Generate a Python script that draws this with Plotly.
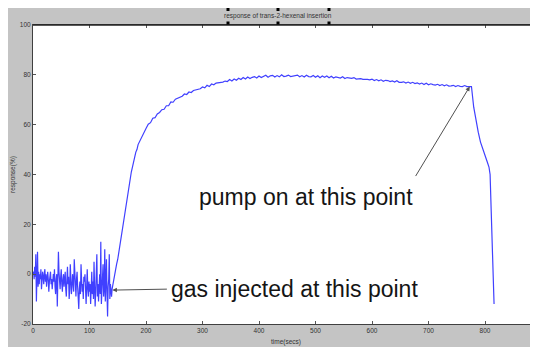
import plotly.graph_objects as go

# ---------------- data ----------------
noise_times = list(range(0, 141))
noise_vals = [0, 1, -2, 3, -1, 8, -11, -3, 9, -5, 1,
              -4, 0, -2, 2, -6, -3, 1, -1, -4, 0,
              2, -3, 0, -5, -1, 1, -2, -7, -3, 0,
              1, -4, -2, -6, -1, 0, -3, 2, -5, -8,
              -2, 0, -13, -4, 9, 1, -3, -6, -1, 2,
              -4, -7, -2, 0, -5, -3, 1, -6, -9, -2,
              3, -4, -1, -10, -6, 4, -2, -8, -5, 0,
              -3, -7, 6, -1, -4, -9, -2, 1, -5, -11,
              -14, -6, -3, -8, 4, -2, -7, -4, -10, -1,
              -3, 0, -8, -12, -5, 2, -6, -9, -3, -7,
              -4, -12, -6, 1, -8, -3, -10, 5, -5, -13,
              -7, -2, 8, -9, -4, -11, -6, 0, -8, 13,
              -12, -5, -2, 4, -9, -6, 10, -11, -3, 6,
              -8, -17, -5, -2, 8, -10, -4, -7, -9, -6]

rise_times = list(range(142, 199, 2))
rise_vals = [-3, 0, 2, 4, 6, 9, 12, 14, 16, 19,
             22, 26, 30, 33, 35, 38, 41, 43, 46, 47,
             49, 50, 52, 53, 54, 55, 56, 57, 57.5]

plateau_times = list(range(200, 777, 4))
plateau_vals = [58.5, 60.2, 60.8, 62.6, 62.8, 64.3, 64.9, 66.0, 66.2, 67.6,
                67.6, 69.1, 69.0, 70.2, 70.5, 71.1, 71.4, 72.3, 72.1, 73.1,
                72.9, 73.7, 73.9, 74.2, 74.4, 75.1, 74.8, 75.8, 75.3, 76.3,
                76.0, 76.7, 76.8, 77.0, 77.1, 77.5, 77.3, 78.1, 77.5, 78.3,
                77.8, 78.6, 78.1, 78.9, 78.3, 79.1, 78.5, 79.0, 79.3, 78.7,
                79.5, 78.9, 79.3, 79.8, 79.0, 79.6, 79.8, 79.1, 79.7, 79.2,
                80.0, 79.3, 79.5, 79.9, 79.3, 79.4, 79.8, 79.9, 79.2, 79.7,
                79.1, 79.8, 79.3, 79.2, 79.7, 79.0, 79.6, 78.8, 79.5, 79.0,
                79.5, 78.8, 79.4, 78.7, 79.2, 78.9, 78.7, 79.2, 78.5, 78.9,
                78.6, 78.6, 78.9, 78.3, 78.4, 78.5, 78.2, 78.3, 78.2, 78.0,
                78.3, 77.7, 78.1, 77.6, 78.0, 77.4, 77.8, 77.7, 77.3, 77.6,
                77.1, 77.6, 77.0, 77.0, 77.2, 76.7, 77.1, 76.6, 77.0, 76.5,
                76.8, 76.3, 76.7, 76.1, 76.6, 76.0, 76.4, 76.1, 75.9, 76.2,
                75.7, 76.1, 75.6, 76.0, 75.5, 75.6, 75.8, 75.3, 75.7, 75.4,
                75.3, 75.7, 75.3, 75.3, 75.3]

drop_times = [780, 784, 788, 792, 796, 800, 804, 807, 809, 811, 813, 815, 816]
drop_vals = [67, 61, 57, 53, 50, 47.5, 45, 43, 40, 25, 8, -5, -12]

x_ticks = [0, 100, 200, 300, 400, 500, 600, 700, 800, 900]
y_ticks = [-20, 0, 20, 40, 60, 80, 100]

title_text = "response of trans-2-hexenal insertion"
x_title = "time(secs)"
y_title = "response(%)"
pump_text = "pump on at this point"
gas_text = "gas injected at this point"

assert len(noise_times) == len(noise_vals)
assert len(rise_times) == len(rise_vals)
assert len(plateau_times) == len(plateau_vals)
assert len(drop_times) == len(drop_vals)

times = noise_times + rise_times + plateau_times + drop_times
resp = noise_vals + rise_vals + plateau_vals + drop_vals

# ---------------- layout geometry ----------------
# the page body adds an 8px margin, so figure coords = screen coords - 8
OFF = 8
W, H = 530, 343
L, R, T, B = 25, 1, 17, 27
PW, PH = W - L - R, H - T - B


def pxp(sx):
    """screen x pixel -> paper x"""
    return (sx - OFF - L) / PW


def pyp(sy):
    """screen y pixel -> paper y"""
    return (H - B - (sy - OFF)) / PH


fig = go.Figure()
fig.add_trace(go.Scatter(x=times, y=resp, mode="lines",
                         line=dict(color="#4040ff", width=1.2),
                         hoverinfo="skip", showlegend=False))

gray = "#c4c4c4"
white = "#ffffff"
shapes = [
    # white strip at the bottom of the gray figure
    dict(type="rect", xref="paper", yref="paper", x0=pxp(0), x1=pxp(560), y0=pyp(360), y1=pyp(347),
         fillcolor=white, line=dict(width=0)),
    # thicker top border
    dict(type="line", xref="paper", yref="paper", x0=0, x1=1, y0=1, y1=1,
         line=dict(color="#222222", width=1.5)),
]
# selection handles around the title
for hx in (228, 278, 329):
    for hy in (9.5, 23):
        shapes.append(dict(type="rect", xref="paper", yref="paper",
                           x0=pxp(hx - 1.5), x1=pxp(hx + 1.5), y0=pyp(hy + 1.5), y1=pyp(hy - 1.5),
                           fillcolor="#000000", line=dict(width=0)))

small_font = dict(family="Arial, Liberation Sans, sans-serif", size=6.5, color="#333333")
big_font = dict(family="Arial, Liberation Sans, sans-serif", size=23, color="#151515")

annotations = [
    dict(text=title_text, xref="paper", yref="paper", x=pxp(278), y=pyp(16),
         showarrow=False, font=small_font, xanchor="center", yanchor="middle"),
    dict(text=x_title, xref="paper", yref="paper", x=pxp(286), y=pyp(342),
         showarrow=False, font=small_font, xanchor="center", yanchor="middle"),
    dict(text=y_title, xref="paper", yref="paper", x=pxp(13), y=pyp(175), textangle=-90,
         showarrow=False, font=small_font, xanchor="center", yanchor="middle"),
    dict(text=pump_text, xref="paper", yref="paper", x=pxp(306), y=pyp(197),
         showarrow=False, font=big_font, xanchor="center", yanchor="middle"),
    dict(text=gas_text, xref="paper", yref="paper", x=pxp(294), y=pyp(289),
         showarrow=False, font=big_font, xanchor="center", yanchor="middle"),
    dict(text="", x=773, y=75.3, xref="x", yref="y", showarrow=True,
         ax=-55, ay=91, arrowhead=2, arrowsize=0.9, arrowwidth=1, arrowcolor="#505050"),
    dict(text="", x=140.5, y=-6.4, xref="x", yref="y", showarrow=True,
         ax=56, ay=-1, arrowhead=2, arrowsize=0.9, arrowwidth=1, arrowcolor="#505050"),
]

fig.update_layout(
    width=W, height=H,
    margin=dict(l=L, r=R, t=T, b=B, pad=0),
    paper_bgcolor=gray, plot_bgcolor=white,
    shapes=shapes, annotations=annotations,
    showlegend=False,
)
axis_common = dict(showline=True, linecolor="#404040", linewidth=1, mirror="ticks",
                   ticks="inside", ticklen=3, tickcolor="#555555", tickwidth=1,
                   showgrid=False, zeroline=False, tickfont=small_font)
fig.update_xaxes(range=[0, 892], tickvals=x_ticks, ticktext=[str(v) for v in x_ticks],
                 **axis_common)
fig.update_yaxes(range=[-20, 100], tickvals=y_ticks, ticktext=[str(v) for v in y_ticks],
                 **axis_common)

fig.write_html("out.html")
